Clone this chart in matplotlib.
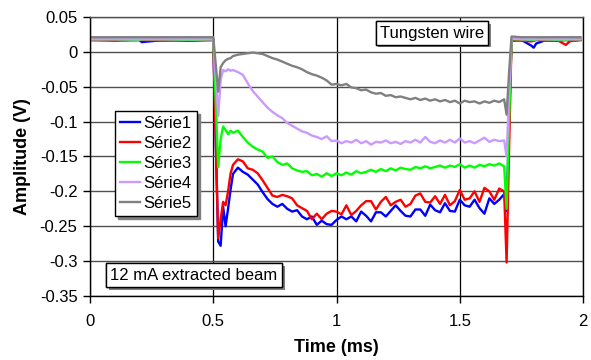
import matplotlib
matplotlib.use("Agg")
import matplotlib.pyplot as plt
import matplotlib.patheffects as pe

plt.rcParams['font.family'] = ['Liberation Sans', 'DejaVu Sans']

# temps (ms)
time = [0.00, 0.10, 0.20, 0.21, 0.30, 0.40, 0.50,
        0.52, 0.53, 0.54, 0.55, 0.56, 0.57, 0.58,
        0.60, 0.62, 0.64, 0.66, 0.68, 0.70, 0.72, 0.74, 0.76, 0.78,
        0.80, 0.82, 0.84, 0.86, 0.88, 0.90, 0.92, 0.94, 0.96, 0.98,
        1.00, 1.02, 1.04, 1.06, 1.08, 1.10, 1.12, 1.14, 1.16, 1.18,
        1.20, 1.22, 1.24, 1.26, 1.28, 1.30, 1.32, 1.34, 1.36, 1.38,
        1.40, 1.42, 1.44, 1.46, 1.48, 1.50, 1.52, 1.54, 1.56, 1.58,
        1.60, 1.62, 1.64, 1.66, 1.68,
        1.69, 1.70, 1.71, 1.75, 1.79, 1.80, 1.81, 1.85, 1.90, 1.93, 1.95, 1.99]

serie1 = [0.017, 0.017, 0.017, 0.014, 0.017, 0.016, 0.017,
          -0.272, -0.278, -0.222, -0.250, -0.225, -0.198, -0.175,
          -0.166, -0.172, -0.176, -0.183, -0.190, -0.201, -0.211, -0.218, -0.222, -0.218,
          -0.225, -0.229, -0.227, -0.236, -0.240, -0.236, -0.248, -0.242, -0.247, -0.248,
          -0.241, -0.236, -0.240, -0.236, -0.243, -0.229, -0.235, -0.243, -0.230, -0.230,
          -0.236, -0.228, -0.220, -0.228, -0.235, -0.236, -0.226, -0.226, -0.235, -0.219,
          -0.227, -0.230, -0.217, -0.228, -0.229, -0.212, -0.220, -0.222, -0.212, -0.224,
          -0.232, -0.210, -0.218, -0.212, -0.204,
          -0.228, -0.100, 0.016, 0.017, 0.009, 0.006, 0.012, 0.017, 0.016, 0.017, 0.016, 0.017]

serie2 = [0.017, 0.016, 0.017, 0.017, 0.016, 0.017, 0.017,
          -0.267, -0.240, -0.215, -0.220, -0.200, -0.175, -0.162,
          -0.154, -0.157, -0.167, -0.169, -0.174, -0.184, -0.195, -0.206, -0.208, -0.205,
          -0.207, -0.210, -0.220, -0.224, -0.228, -0.240, -0.232, -0.240, -0.232, -0.228,
          -0.229, -0.233, -0.220, -0.234, -0.228, -0.220, -0.214, -0.214, -0.226, -0.215,
          -0.208, -0.220, -0.215, -0.212, -0.222, -0.218, -0.206, -0.203, -0.215, -0.216,
          -0.207, -0.218, -0.205, -0.220, -0.214, -0.198, -0.212, -0.210, -0.200, -0.215,
          -0.195, -0.200, -0.212, -0.196, -0.200,
          -0.302, -0.140, 0.017, 0.016, 0.015, 0.016, 0.017, 0.016, 0.016, 0.010, 0.016, 0.017]

serie3 = [0.018, 0.018, 0.017, 0.018, 0.018, 0.017, 0.018,
          -0.165, -0.125, -0.107, -0.112, -0.118, -0.113, -0.116,
          -0.113, -0.122, -0.130, -0.136, -0.140, -0.143, -0.152, -0.150, -0.158, -0.162,
          -0.160, -0.167, -0.170, -0.172, -0.171, -0.177, -0.175, -0.179, -0.174, -0.178,
          -0.174, -0.177, -0.173, -0.176, -0.171, -0.174, -0.172, -0.169, -0.172, -0.168,
          -0.171, -0.167, -0.170, -0.166, -0.168, -0.169, -0.165, -0.167, -0.164, -0.167,
          -0.165, -0.163, -0.166, -0.163, -0.165, -0.161, -0.166, -0.163, -0.166, -0.162,
          -0.164, -0.161, -0.163, -0.160, -0.164,
          -0.225, -0.100, 0.018, 0.018, 0.017, 0.017, 0.018, 0.018, 0.017, 0.017, 0.018, 0.018]

serie4 = [0.018, 0.018, 0.018, 0.018, 0.018, 0.018, 0.018,
          -0.092, -0.040, -0.026, -0.028, -0.025, -0.027, -0.026,
          -0.029, -0.033, -0.045, -0.056, -0.064, -0.072, -0.080, -0.086, -0.091, -0.095,
          -0.102, -0.106, -0.110, -0.114, -0.116, -0.120, -0.122, -0.125, -0.121, -0.128,
          -0.127, -0.131, -0.128, -0.130, -0.126, -0.131, -0.128, -0.133, -0.129, -0.130,
          -0.127, -0.131, -0.129, -0.132, -0.128, -0.130, -0.126, -0.130, -0.122, -0.129,
          -0.131, -0.127, -0.130, -0.126, -0.130, -0.124, -0.130, -0.128, -0.131, -0.127,
          -0.123, -0.129, -0.126, -0.128, -0.127,
          -0.150, -0.060, 0.019, 0.018, 0.018, 0.018, 0.018, 0.018, 0.018, 0.018, 0.018, 0.018]

serie5 = [0.021, 0.021, 0.021, 0.021, 0.021, 0.021, 0.021,
          -0.057, -0.022, -0.016, -0.012, -0.010, -0.009, -0.006,
          -0.004, -0.003, -0.002, -0.001, -0.002, -0.003, -0.006, -0.009, -0.011, -0.014,
          -0.017, -0.020, -0.022, -0.025, -0.029, -0.032, -0.034, -0.037, -0.041, -0.047,
          -0.046, -0.048, -0.046, -0.051, -0.052, -0.055, -0.054, -0.058, -0.060, -0.059,
          -0.063, -0.062, -0.065, -0.064, -0.066, -0.068, -0.066, -0.069, -0.067, -0.070,
          -0.068, -0.071, -0.069, -0.072, -0.070, -0.074, -0.070, -0.072, -0.071, -0.074,
          -0.071, -0.073, -0.070, -0.072, -0.068,
          -0.090, -0.030, 0.022, 0.021, 0.021, 0.021, 0.021, 0.021, 0.021, 0.021, 0.021, 0.021]

series = [serie1, serie2, serie3, serie4, serie5]
noms = ["Série1", "Série2", "Série3", "Série4", "Série5"]
couleurs = ["#0000FF", "#FF0000", "#00FF00", "#CC99FF", "#808080"]

xticks = [0, 0.5, 1, 1.5, 2]
xlabels = ["0", "0.5", "1", "1.5", "2"]
yticks = [0.05, 0, -0.05, -0.1, -0.15, -0.2, -0.25, -0.3, -0.35]
ylabels = ["0.05", "0", "-0.05", "-0.1", "-0.15", "-0.2", "-0.25", "-0.3", "-0.35"]

fig = plt.figure(figsize=(5.91, 3.6), dpi=100)
ax = fig.add_axes([0.1523, 0.1778, 0.8342, 0.775])

for y, nom, c in zip(series, noms, couleurs):
    ax.plot(time, y, color=c, lw=1.7, label=nom)

ax.set_xlim(0, 2)
ax.set_ylim(-0.35, 0.05)
ax.set_xticks(xticks)
ax.set_xticklabels(xlabels)
ax.set_yticks(yticks)
ax.set_yticklabels(ylabels)
ax.tick_params(labelsize=12, direction='out', length=5, width=1, pad=4)
ax.xaxis.set_tick_params(pad=8)

ax.grid(axis='x', color='black', lw=0.9)
ax.grid(axis='y', color='#505050', lw=1.0)
ax.set_axisbelow(True)
for s in ax.spines.values():
    s.set_color('black')
    s.set_linewidth(1.0)
ax.spines['top'].set_color('#505050')

ax.set_xlabel("Time (ms)", fontsize=13, fontweight='bold', labelpad=7)
ax.set_ylabel("Amplitude (V)", fontsize=13, fontweight='bold', labelpad=6)

leg = ax.legend(loc='upper left', bbox_to_anchor=(0.051, 0.663), borderaxespad=0,
                fontsize=12, fancybox=False, edgecolor='black', framealpha=1,
                handlelength=1.2, handletextpad=0.2, labelspacing=0.3,
                borderpad=0.3, shadow={'color': '#808080', 'alpha': 1})
leg.get_frame().set_linewidth(1.0)

shadow = [pe.withSimplePatchShadow(offset=(2, -2), shadow_rgbFace='#808080', alpha=1), pe.Normal()]
for txt, x, y in [("Tungsten wire", 1.387, 0.027), ("12 mA extracted beam", 0.422, -0.320)]:
    t = ax.text(x, y, txt, fontsize=12, ha='center', va='center',
                bbox=dict(boxstyle='square,pad=0.25', fc='white', ec='black', lw=1.0))
    t.get_bbox_patch().set_path_effects(shadow)

fig.savefig("out.png", dpi=100)
